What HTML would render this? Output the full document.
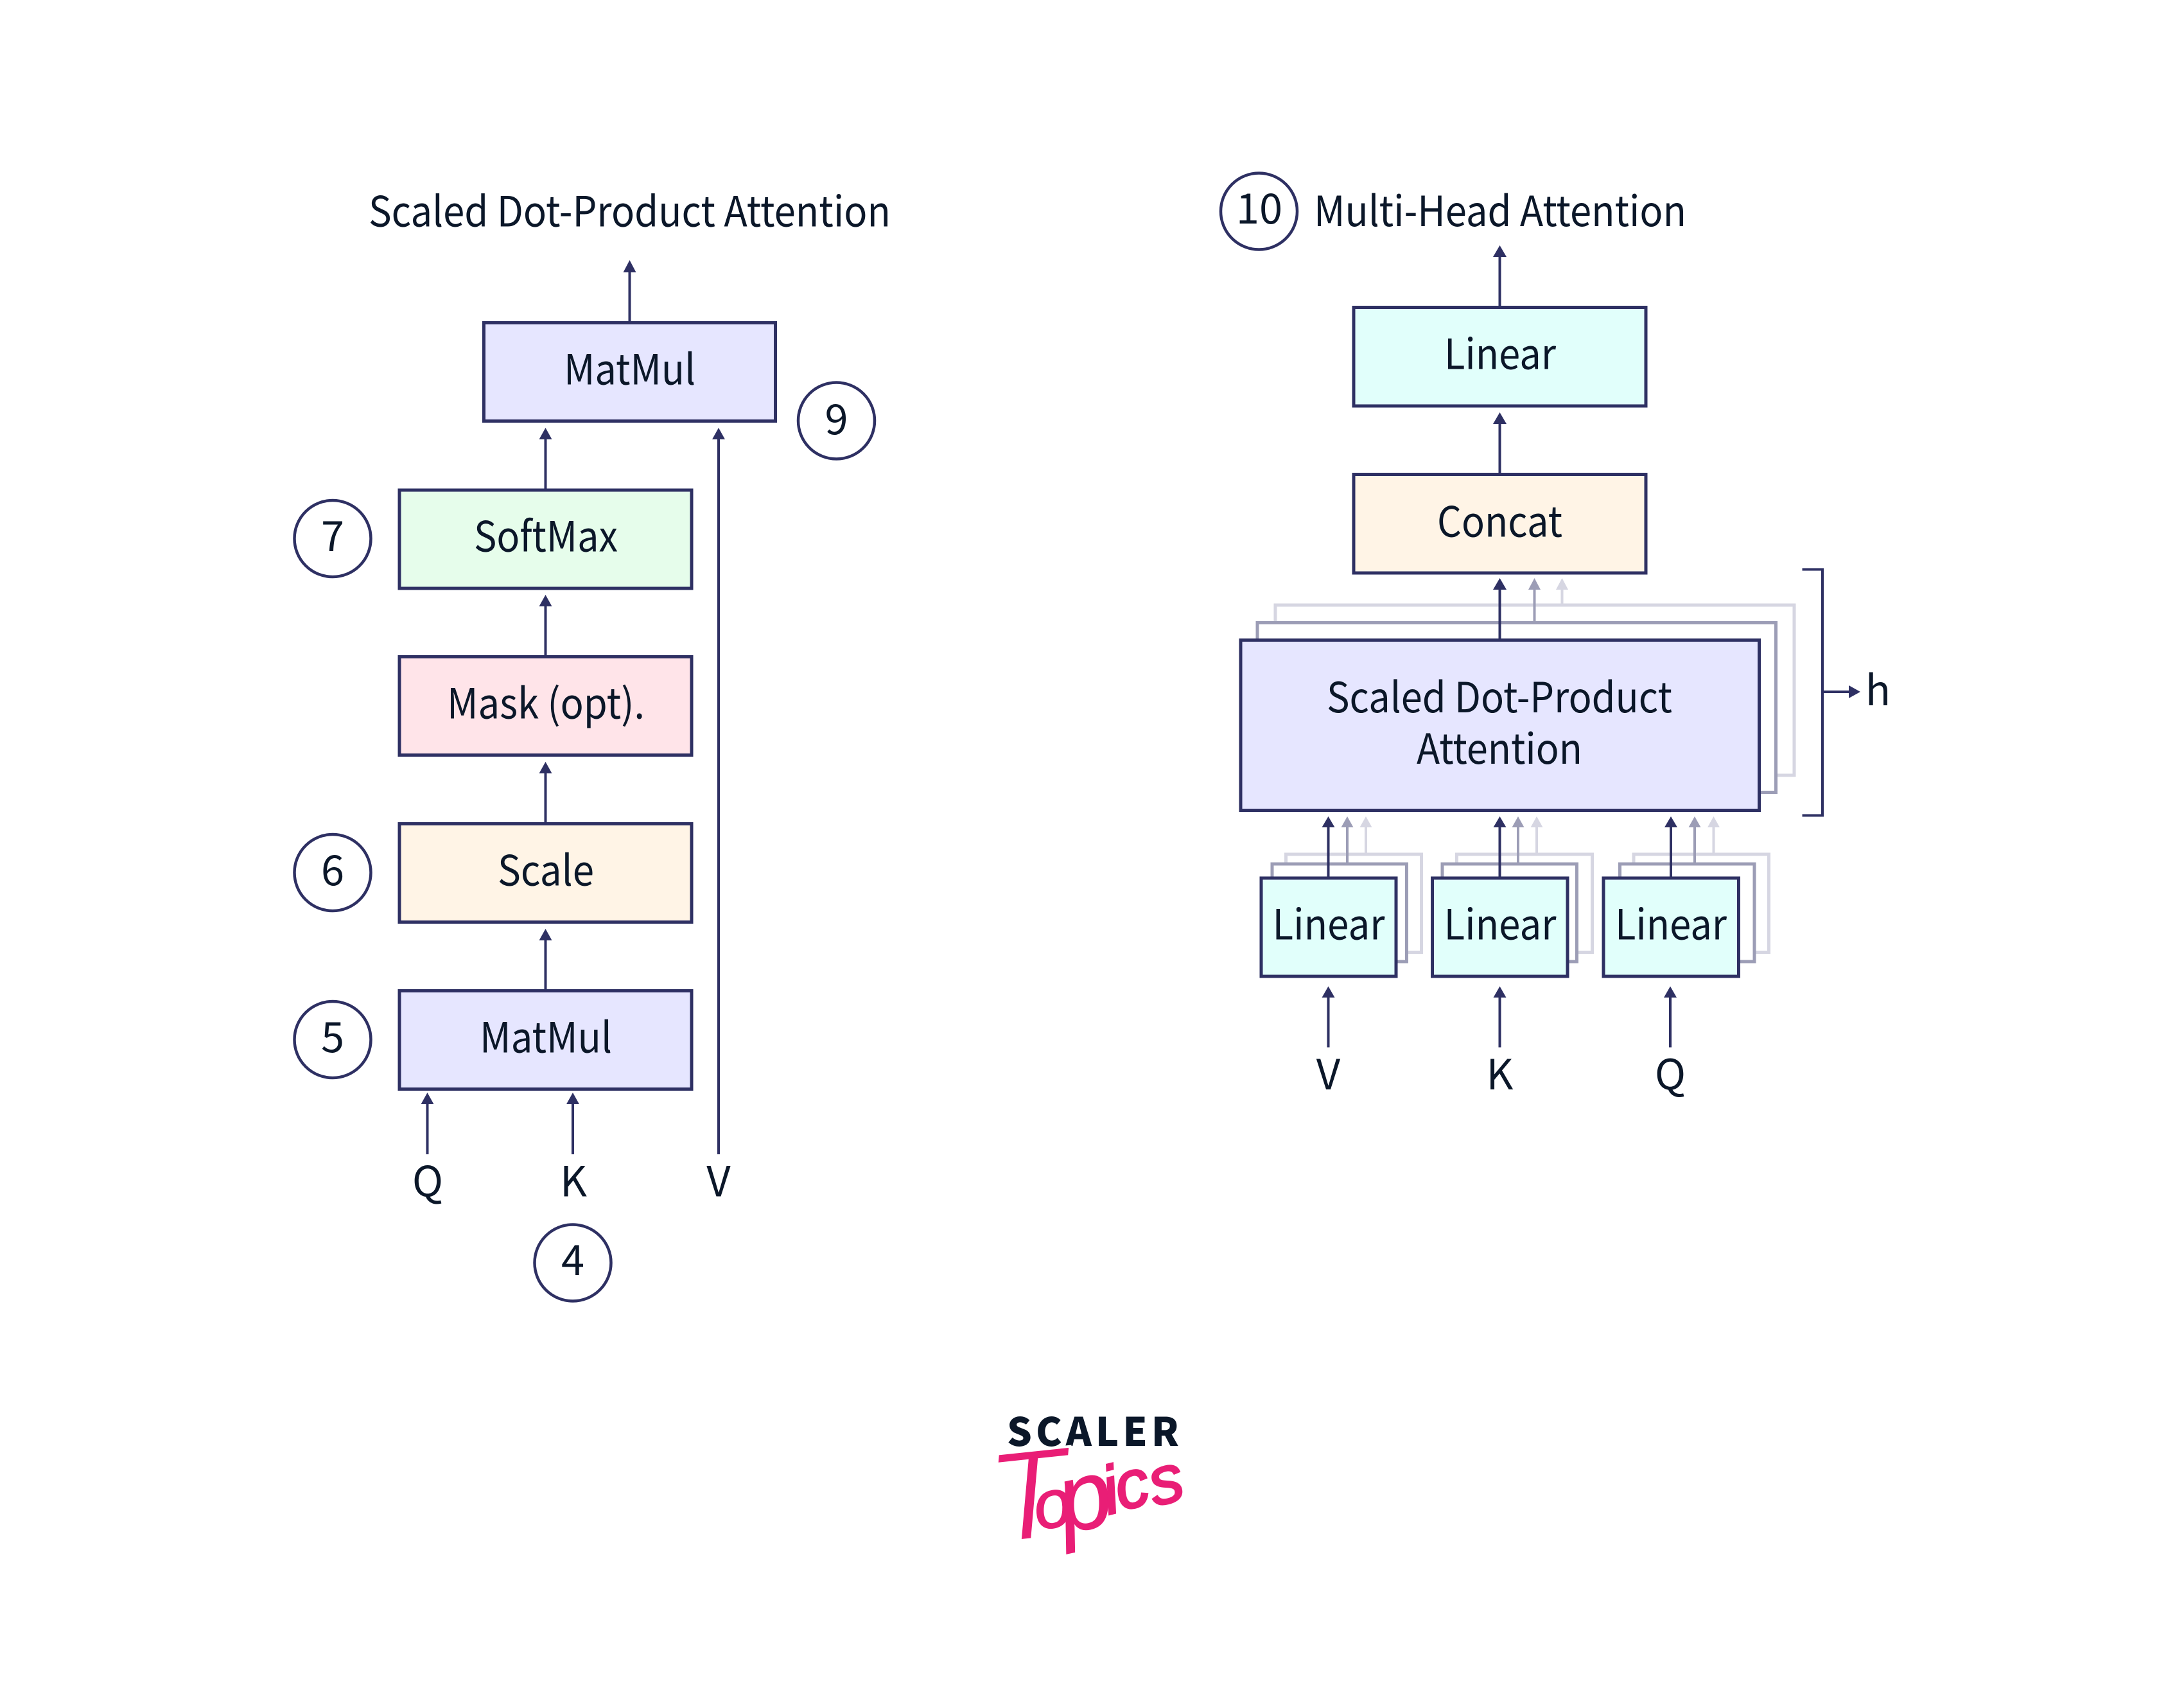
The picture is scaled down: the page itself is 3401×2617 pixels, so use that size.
<!DOCTYPE html>
<html><head><meta charset="utf-8">
<style>
html,body{margin:0;padding:0;background:#fff;width:3401px;height:2617px;overflow:hidden}
svg{display:block}
text{font-family:"Noto Sans CJK JP","Liberation Sans",sans-serif;font-size:65px;fill:#0b1729}
.b{stroke:#2e3063;stroke-width:5}
.n{stroke:#2e3063;stroke-width:4;fill:none}
.m{stroke:#9c9db6;stroke-width:5;fill:#fff}
.l{stroke:#d6d6e2;stroke-width:5;fill:#fff}
.ml{stroke:#9c9db6;stroke-width:4;fill:none}
.ll{stroke:#d6d6e2;stroke-width:4;fill:none}
.c{stroke:#2e3063;stroke-width:4.5;fill:#fff}
.h{fill:#2e3063}.hm{fill:#9c9db6}.hl{fill:#d6d6e2}
text.s{font-family:"Liberation Sans",sans-serif;font-style:italic;fill:#e91e76}
</style></head><body>
<svg xmlns="http://www.w3.org/2000/svg" width="3401" height="2617" viewBox="0 0 3401 2617">
<rect width="3401" height="2617" fill="#fff"/>

<!-- Left column -->
<text x="574" y="352.5" textLength="813" lengthAdjust="spacingAndGlyphs">Scaled Dot-Product Attention</text>

<line class="n" x1="980.5" y1="501" x2="980.5" y2="420"/><polygon class="h" points="980.5,405 970.5,424 990.5,424"/>
<rect class="b" x="753.5" y="502.5" width="454" height="153" fill="#e6e6ff"/>
<text x="878" y="598.5" textLength="205" lengthAdjust="spacingAndGlyphs">MatMul</text>

<line class="n" x1="849.5" y1="761" x2="849.5" y2="680"/><polygon class="h" points="849.5,666 839.5,684 859.5,684"/>
<rect class="b" x="622" y="763" width="455" height="153" fill="#e6fdeb"/>
<text x="738" y="858.5" textLength="224" lengthAdjust="spacingAndGlyphs">SoftMax</text>

<line class="n" x1="849.5" y1="1021" x2="849.5" y2="940"/><polygon class="h" points="849.5,926 839.5,944 859.5,944"/>
<rect class="b" x="622" y="1022.5" width="455" height="153" fill="#ffe4e9"/>
<text x="696" y="1118.5" textLength="308" lengthAdjust="spacingAndGlyphs">Mask (opt).</text>

<line class="n" x1="849.5" y1="1281" x2="849.5" y2="1200"/><polygon class="h" points="849.5,1186 839.5,1204 859.5,1204"/>
<rect class="b" x="622" y="1282.5" width="455" height="153" fill="#fff4e6"/>
<text x="775" y="1378.5" textLength="150" lengthAdjust="spacingAndGlyphs">Scale</text>

<line class="n" x1="849.5" y1="1541" x2="849.5" y2="1460"/><polygon class="h" points="849.5,1446 839.5,1464 859.5,1464"/>
<rect class="b" x="622" y="1542.5" width="455" height="153" fill="#e6e6ff"/>
<text x="747" y="1638.5" textLength="206" lengthAdjust="spacingAndGlyphs">MatMul</text>

<line class="n" x1="1119" y1="1797" x2="1119" y2="680"/><polygon class="h" points="1119,666 1109,684 1129,684"/>
<line class="n" x1="665.5" y1="1797" x2="665.5" y2="1715"/><polygon class="h" points="665.5,1701 655.5,1719 675.5,1719"/>
<line class="n" x1="892" y1="1797" x2="892" y2="1715"/><polygon class="h" points="892,1701 882,1719 902,1719"/>
<text x="666" y="1862.5" text-anchor="middle">Q</text>
<text x="893" y="1862.5" text-anchor="middle">K</text>
<text x="1119" y="1862.5" text-anchor="middle">V</text>

<circle class="c" cx="1302.5" cy="655" r="59.5"/><text x="1302.5" y="676" text-anchor="middle">9</text>
<circle class="c" cx="518" cy="838.5" r="59.5"/><text x="518" y="858" text-anchor="middle">7</text>
<circle class="c" cx="518" cy="1358.5" r="59.5"/><text x="518" y="1378" text-anchor="middle">6</text>
<circle class="c" cx="518" cy="1618.5" r="59.5"/><text x="518" y="1638" text-anchor="middle">5</text>
<circle class="c" cx="892" cy="1966" r="59.5"/><text x="892" y="1985" text-anchor="middle">4</text>

<!-- Right column -->
<circle class="c" cx="1960.5" cy="329" r="59.5"/><text x="1961" y="348" text-anchor="middle">10</text>
<text x="2046" y="352" textLength="580" lengthAdjust="spacingAndGlyphs">Multi-Head Attention</text>

<line class="n" x1="2335.5" y1="476" x2="2335.5" y2="396"/><polygon class="h" points="2335.5,382 2325,400 2346,400"/>
<rect class="b" x="2108" y="478.5" width="455" height="153.5" fill="#e1fffb"/>
<text x="2249" y="574.5" textLength="174" lengthAdjust="spacingAndGlyphs">Linear</text>

<line class="n" x1="2335.5" y1="736" x2="2335.5" y2="656"/><polygon class="h" points="2335.5,642 2325,660 2346,660"/>
<rect class="b" x="2108" y="738.5" width="455" height="153.5" fill="#fff4e6"/>
<text x="2238" y="835.5" textLength="195" lengthAdjust="spacingAndGlyphs">Concat</text>

<!-- Scaled stack -->
<line class="ll" x1="2432.5" y1="940" x2="2432.5" y2="914"/><polygon class="hl" points="2432.5,900 2423,918 2442,918"/>
<rect class="l" x="1986" y="942" width="808" height="265"/>
<line class="ml" x1="2389.5" y1="968" x2="2389.5" y2="914"/><polygon class="hm" points="2389.5,900 2380,918 2399,918"/>
<rect class="m" x="1958" y="969.5" width="807.5" height="264"/>
<line class="n" x1="2335.5" y1="995" x2="2335.5" y2="914"/><polygon class="h" points="2335.5,900 2325,918 2346,918"/>
<rect class="b" x="1932" y="996.5" width="807.5" height="265" fill="#e6e6ff"/>
<text x="2066" y="1109" textLength="538" lengthAdjust="spacingAndGlyphs">Scaled Dot-Product</text>
<text x="2206" y="1189" textLength="258" lengthAdjust="spacingAndGlyphs">Attention</text>

<!-- Bracket -->
<polyline class="n" points="2806.5,886.5 2838,886.5 2838,1269.5 2806.5,1269.5"/>
<line class="n" x1="2838" y1="1077" x2="2882" y2="1077"/><polygon class="h" points="2897,1077 2879,1067 2879,1087"/>
<text x="2924.5" y="1098" text-anchor="middle">h</text>

<!-- Linear V -->
<line class="ll" x1="2127" y1="1328" x2="2127" y2="1285"/><polygon class="hl" points="2127,1271 2117.5,1288 2136.5,1288"/>
<rect class="l" x="2002.5" y="1330" width="211" height="152.5"/>
<line class="ml" x1="2098" y1="1343" x2="2098" y2="1285"/><polygon class="hm" points="2098,1271 2088.5,1288 2107.5,1288"/>
<rect class="m" x="1981" y="1345" width="209.5" height="152"/>
<line class="n" x1="2068.5" y1="1365" x2="2068.5" y2="1285"/><polygon class="h" points="2068.5,1271 2058.5,1288 2078.5,1288"/>
<rect class="b" x="1964" y="1367" width="210" height="153" fill="#e1fffb"/>
<text x="1981.5" y="1462.5" textLength="175" lengthAdjust="spacingAndGlyphs">Linear</text>

<!-- Linear K -->
<line class="ll" x1="2393" y1="1328" x2="2393" y2="1285"/><polygon class="hl" points="2393,1271 2383.5,1288 2402.5,1288"/>
<rect class="l" x="2268.5" y="1330" width="211" height="152.5"/>
<line class="ml" x1="2364" y1="1343" x2="2364" y2="1285"/><polygon class="hm" points="2364,1271 2354.5,1288 2373.5,1288"/>
<rect class="m" x="2246" y="1345" width="209.5" height="152"/>
<line class="n" x1="2335.5" y1="1365" x2="2335.5" y2="1285"/><polygon class="h" points="2335.5,1271 2325.5,1288 2345.5,1288"/>
<rect class="b" x="2230.5" y="1367" width="210.5" height="153" fill="#e1fffb"/>
<text x="2248.5" y="1462.5" textLength="175" lengthAdjust="spacingAndGlyphs">Linear</text>

<!-- Linear Q -->
<line class="ll" x1="2668.5" y1="1328" x2="2668.5" y2="1285"/><polygon class="hl" points="2668.5,1271 2659,1288 2678,1288"/>
<rect class="l" x="2544" y="1330" width="210.5" height="152.5"/>
<line class="ml" x1="2639" y1="1343" x2="2639" y2="1285"/><polygon class="hm" points="2639,1271 2629.5,1288 2648.5,1288"/>
<rect class="m" x="2522.5" y="1345" width="209.5" height="152"/>
<line class="n" x1="2602" y1="1365" x2="2602" y2="1285"/><polygon class="h" points="2602,1271 2592,1288 2612,1288"/>
<rect class="b" x="2497" y="1367" width="210.5" height="153" fill="#e1fffb"/>
<text x="2515" y="1462.5" textLength="174" lengthAdjust="spacingAndGlyphs">Linear</text>

<!-- Inputs -->
<line class="n" x1="2068.5" y1="1630.5" x2="2068.5" y2="1549"/><polygon class="h" points="2068.5,1535.5 2058.5,1553 2078.5,1553"/>
<line class="n" x1="2335.5" y1="1630.5" x2="2335.5" y2="1549"/><polygon class="h" points="2335.5,1535.5 2325.5,1553 2345.5,1553"/>
<line class="n" x1="2601" y1="1630.5" x2="2601" y2="1549"/><polygon class="h" points="2601,1535.5 2591,1553 2611,1553"/>
<text x="2068.5" y="1696" text-anchor="middle">V</text>
<text x="2335.5" y="1696" text-anchor="middle">K</text>
<text x="2601" y="1696" text-anchor="middle">Q</text>

<!-- Logo -->
<text x="1568" y="2251" textLength="268" lengthAdjust="spacing" style="font-size:61px;font-weight:900">SCALER</text>
<text class="s" transform="rotate(-6 1600 2395)" x="1547" y="2397" style="font-size:200px;stroke:#fff;stroke-width:4">T</text>
<text class="s" x="1616" y="2382" rotate="-10" style="font-size:105px;stroke:#e91e76;stroke-width:2">o</text>
<text class="s" x="1658" y="2388" rotate="-12" style="font-size:150px;stroke:#e91e76;stroke-width:1">p</text>
<text class="s" x="1726 1745 1798" y="2358 2352 2345" rotate="-14 -14 -14" style="font-size:105px;stroke:#e91e76;stroke-width:3">ics</text>
</svg>
</body></html>
